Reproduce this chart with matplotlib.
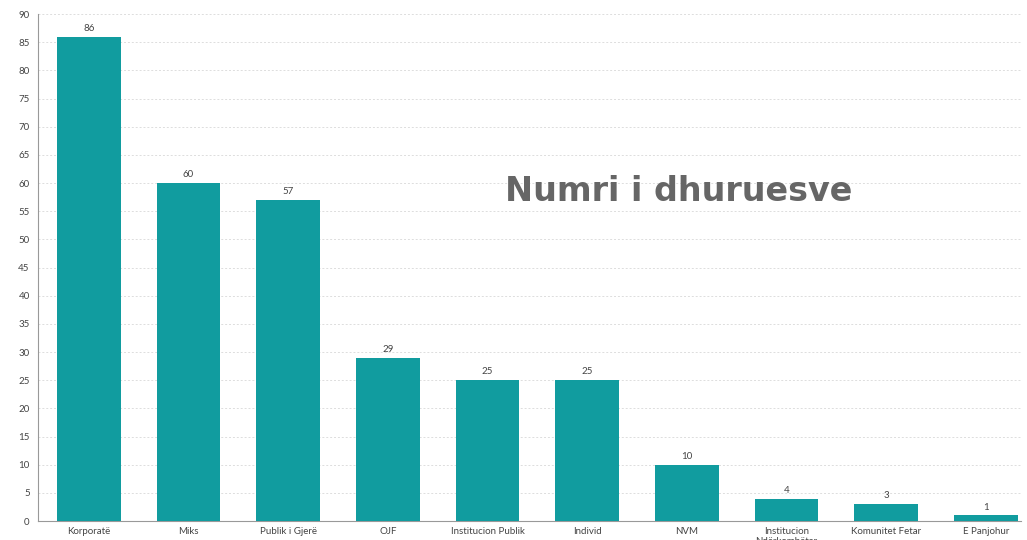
import matplotlib
matplotlib.use("Agg")
import matplotlib.pyplot as plt

categories = ["Korporatë", "Miks", "Publik i Gjerë", "OJF", "Institucion Publik",
              "Individ", "NVM", "Institucion\nNdërkombëtar", "Komunitet Fetar", "E Panjohur"]
values = [86, 60, 57, 29, 25, 25, 10, 4, 3, 1]
yticks = list(range(0, 91, 5))

plt.rcParams['font.family'] = ['Lato', 'DejaVu Sans']

fig = plt.figure(figsize=(10.27, 5.4), dpi=100)
ax = fig.add_axes([0.037, 0.035, 0.957, 0.939])

x = list(range(len(categories)))
bars = ax.bar(x, values, width=0.64, color="#119c9f", zorder=3)
for b, v in zip(bars, values):
    ax.text(b.get_x() + b.get_width() / 2, v + 0.7, str(v), ha="center", va="bottom",
            fontsize=7, color="#444444")

ax.set_ylim(0, 90)
ax.set_xlim(-0.51, 9.35)
ax.set_yticks(yticks)
ax.set_xticks(x)
ax.set_xticklabels(categories, fontsize=7, color="#444444", va="top")
ax.tick_params(axis="y", labelsize=7, labelcolor="#444444", length=0, pad=6)
ax.tick_params(axis="x", length=0, pad=4)
ax.grid(axis="y", color="#dddddd", linestyle=(0, (2, 2)), linewidth=0.7, zorder=0)
for s in ["top", "right"]:
    ax.spines[s].set_visible(False)
ax.spines["left"].set_color("#999999")
ax.spines["bottom"].set_color("#999999")

fig.text(0.661, 0.645, "Numri i dhuruesve", ha="center", va="center",
         fontsize=24, fontweight="bold", color="#666666", family="DejaVu Sans")

fig.savefig("out.png", dpi=100)
